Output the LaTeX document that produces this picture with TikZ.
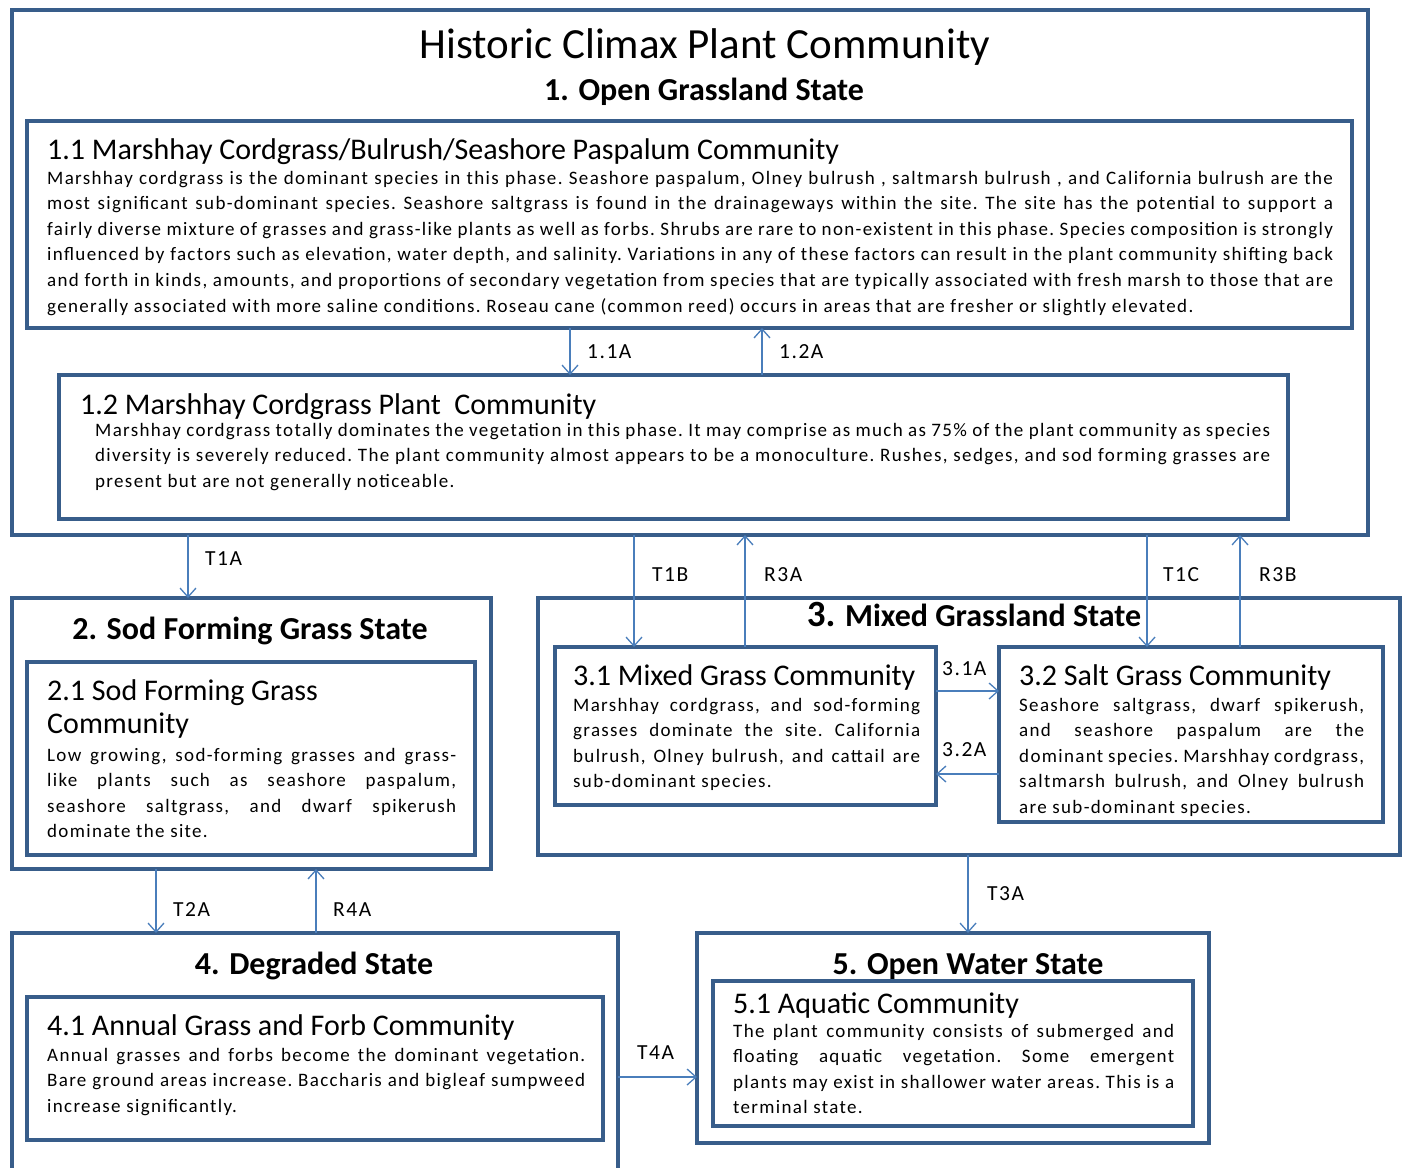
\documentclass[tikz,border=0pt]{standalone}
\usepackage{fontspec}
\setmainfont{Carlito}
\newfontfamily\bodyf{Carlito}[LetterSpace=7]
\usetikzlibrary{arrows.meta}
\definecolor{boxc}{HTML}{385D8A}
\definecolor{arrc}{HTML}{4A7EBB}
\newcommand\jl[1]{\makebox[\linewidth][s]{#1}\\}
\newcommand\bodytext[2]{\parbox[t]{#1}{\frenchspacing\bodyf\fontsize{19}{25.6}\selectfont\raggedright #2}}
\tikzset{
  sbox/.style={draw=boxc, line width=4pt, inner sep=0pt, outer sep=0pt, anchor=north west, fill=white},
  cbox/.style={draw=boxc, line width=4.5pt, inner sep=0pt, outer sep=0pt, anchor=north west, fill=white},
  arr/.style={draw=arrc, line width=1.5pt, -{Straight Barb[length=9pt,width=16pt,line width=1.3pt]}},
  ttl/.style={anchor=base west, inner sep=0pt, font=\fontsize{30}{34}\selectfont},
  sttl/.style={anchor=base, inner sep=0pt, font=\fontsize{32}{36}\selectfont\bfseries},
  lbl/.style={anchor=base west, inner sep=0pt, font=\bodyf\fontsize{21.5}{24}\selectfont},
  bodyn/.style={anchor=base west, inner sep=0pt}
}
\begin{document}
\begin{tikzpicture}[x=1pt,y=-1pt]
\useasboundingbox (0,0) rectangle (1404,1167);
\clip (0,0) rectangle (1404,1167);
\fill[white] (0,0) rectangle (1404,1167);

% State 1
\node[sbox, minimum width=1356pt, minimum height=525pt] (s1) at (12,10) {};
\node[anchor=base, inner sep=0pt, font=\fontsize{43}{48}\selectfont] (t0) at (705,58) {Historic Climax Plant Community};
\node[sttl] (t1) at (704,100) {1. Open Grassland State};

\node[cbox, minimum width=1325pt, minimum height=207pt] (b11) at (27,121) {};
\node[ttl] (t11) at (47,159) {1.1 Marshhay Cordgrass/Bulrush/Seashore Paspalum Community};
\node[bodyn] (x11) at (47,184) {\bodytext{1286pt}{%
\jl{Marshhay cordgrass is the dominant species in this phase. Seashore paspalum, Olney bulrush , saltmarsh bulrush , and California bulrush are the}
\jl{most significant sub-dominant species. Seashore saltgrass is found in the drainageways within the site. The site has the potential to support a}
\jl{fairly diverse mixture of grasses and grass-like plants as well as forbs. Shrubs are rare to non-existent in this phase. Species composition is strongly}
\jl{influenced by factors such as elevation, water depth, and salinity. Variations in any of these factors can result in the plant community shifting back}
\jl{and forth in kinds, amounts, and proportions of secondary vegetation from species that are typically associated with fresh marsh to those that are}
generally associated with more saline conditions. Roseau cane (common reed) occurs in areas that are fresher or slightly elevated.}};

\node[cbox, minimum width=1229pt, minimum height=144pt] (b12) at (59,375) {};
\node[ttl] (t12) at (80,414) {1.2 Marshhay Cordgrass Plant\ \ Community};
\node[bodyn] (x12) at (95,436) {\bodytext{1175pt}{%
\jl{Marshhay cordgrass totally dominates the vegetation in this phase. It may comprise as much as 75\% of the plant community as species}
\jl{diversity is severely reduced. The plant community almost appears to be a monoculture. Rushes, sedges, and sod forming grasses are}
present but are not generally noticeable.}};

\draw[arr] (570,0 |- b11.south) -- (570,0 |- b12.north);
\draw[arr] (762,0 |- b12.north) -- (762,0 |- b11.south);
\node[lbl] (l11) at (587,358) {1.1A};
\node[lbl] (l12) at (779,358) {1.2A};

% State 2
\node[sbox, minimum width=479pt, minimum height=271pt] (s2) at (12,598) {};
\node[sttl] (t2) at (250,639) {2. Sod Forming Grass State};
\node[cbox, minimum width=448pt, minimum height=193pt] (b21) at (27,662) {};
\node[ttl] (t21) at (47,700) {2.1 Sod Forming Grass};
\node[ttl] (t21b) at (47,733) {Community};
\node[bodyn] (x21) at (47,761) {\bodytext{409pt}{%
\jl{Low growing, sod-forming grasses and grass-}
\jl{like plants such as seashore paspalum,}
\jl{seashore saltgrass, and dwarf spikerush}
dominate the site.}};

% State 3
\node[sbox, minimum width=862pt, minimum height=257pt] (s3) at (538,598) {};
\node[sttl] (t3) at (974,626) {{\fontsize{37}{40}\selectfont 3.} Mixed Grassland State};
\node[cbox, minimum width=381pt, minimum height=158pt] (b31) at (555,647) {};
\node[ttl] (t31) at (573,685) {3.1 Mixed Grass Community};
\node[bodyn] (x31) at (573,711) {\bodytext{347pt}{%
\jl{Marshhay cordgrass, and sod-forming}
\jl{grasses dominate the site. California}
\jl{bulrush, Olney bulrush, and cattail are}
sub-dominant species.}};
\node[cbox, minimum width=384pt, minimum height=175pt] (b32) at (999,647) {};
\node[ttl] (t32) at (1019,685) {3.2 Salt Grass Community};
\node[bodyn] (x32) at (1019,711) {\bodytext{345pt}{%
\jl{Seashore saltgrass, dwarf spikerush,}
\jl{and seashore paspalum are the}
\jl{dominant species. Marshhay cordgrass,}
\jl{saltmarsh bulrush, and Olney bulrush}
are sub-dominant species.}};
\draw[arr] (b31.east |- 0,691) -- (b32.west |- 0,691);
\draw[arr] (b32.west |- 0,774) -- (b31.east |- 0,774);
\node[lbl] (l31) at (942,675) {3.1A};
\node[lbl] (l32) at (942,756) {3.2A};

% State 4
\node[sbox, minimum width=606pt, minimum height=260pt] (s4) at (12,933) {};
\node[sttl] (t4) at (314,974) {4. Degraded State};
\node[cbox, minimum width=576pt, minimum height=143pt] (b41) at (27,997) {};
\node[ttl] (t41) at (47,1035) {4.1 Annual Grass and Forb Community};
\node[bodyn] (x41) at (47,1061) {\bodytext{538pt}{%
\jl{Annual grasses and forbs become the dominant vegetation.}
\jl{Bare ground areas increase. Baccharis and bigleaf sumpweed}
increase significantly.}};

% State 5
\node[sbox, minimum width=512pt, minimum height=210pt] (s5) at (697,933) {};
\node[sttl] (t5) at (968,974) {5. Open Water State};
\node[cbox, minimum width=480pt, minimum height=145pt] (b51) at (713,981) {};
\node[ttl] (t51) at (733,1013) {5.1 Aquatic Community};
\node[bodyn] (x51) at (733,1037) {\bodytext{441pt}{%
\jl{The plant community consists of submerged and}
\jl{floating aquatic vegetation. Some emergent}
\jl{plants may exist in shallower water areas. This is a}
terminal state.}};

% transitions
\draw[arr] (188,0 |- s1.south) -- (188,0 |- s2.north);
\node[lbl] (lt1a) at (205,565) {T1A};
\draw[arr] (634,0 |- s1.south) -- (634,0 |- b31.north);
\node[lbl] (lt1b) at (652,581) {T1B};
\draw[arr] (745,0 |- b31.north) -- (745,0 |- s1.south);
\node[lbl] (lr3a) at (764,581) {R3A};
\draw[arr] (1147,0 |- s1.south) -- (1147,0 |- b32.north);
\node[lbl] (lt1c) at (1163,581) {T1C};
\draw[arr] (1240,0 |- b32.north) -- (1240,0 |- s1.south);
\node[lbl] (lr3b) at (1259,581) {R3B};
\draw[arr] (156,0 |- s2.south) -- (156,0 |- s4.north);
\node[lbl] (lt2a) at (173,916) {T2A};
\draw[arr] (316,0 |- s4.north) -- (316,0 |- s2.south);
\node[lbl] (lr4a) at (333,916) {R4A};
\draw[arr] (968,0 |- s3.south) -- (968,0 |- s5.north);
\node[lbl] (lt3a) at (987,900) {T3A};
\draw[arr] (s4.east |- 0,1077) -- (s5.west |- 0,1077);
\node[lbl] (lt4a) at (637,1059) {T4A};
\end{tikzpicture}
\end{document}
